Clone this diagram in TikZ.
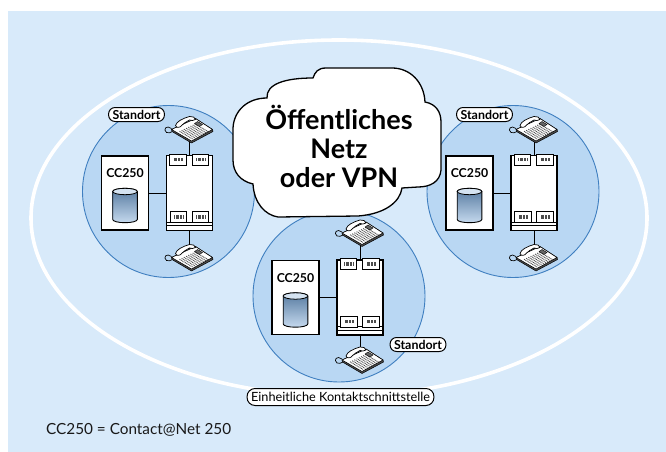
\documentclass[tikz,border=0pt]{standalone}
\usepackage{fontspec}
\setmainfont{Lato}
\definecolor{bgblue}{HTML}{D8EAFA}
\definecolor{siteblue}{HTML}{B9D7F3}
\definecolor{siteline}{HTML}{3F7FC0}
\definecolor{cyltop}{HTML}{55799F}
\definecolor{cylbot}{HTML}{C5D9EE}
\definecolor{cylcap}{HTML}{D5E3F1}
\tikzset{
  x=1pt,y=-1pt,
  sitedisc/.style={circle,draw=siteline,fill=siteblue,line width=0.9pt,minimum size=172pt,inner sep=0pt},
  ccbox/.style={rectangle,draw=black,fill=white,line width=1.1pt,minimum width=47pt,minimum height=74pt,inner sep=0pt},
  ccname/.style={font=\fontsize{12.3}{14}\selectfont\bfseries,inner sep=0pt,text=black},
  swbox/.style={rectangle,draw=black,fill=white,line width=1.1pt,minimum width=46pt,minimum height=75pt,inner sep=0pt},
  card/.style={rectangle,draw=black,fill=white,line width=0.9pt,minimum width=16.5pt,minimum height=11pt,inner sep=0pt},
  wire/.style={draw=black,line width=0.8pt},
  pill/.style={rectangle,rounded corners=6.5pt,draw=black,fill=white,line width=1pt,inner xsep=4pt,inner ysep=0pt,minimum height=14pt},
  tag/.style={pill,font=\fontsize{12.4}{14}\selectfont\bfseries},
}
% telephone drawn around its centre
\newcommand{\phonepic}[2]{%
  \begin{scope}[shift={(#1,#2)}]
    \draw[black,line width=0.7pt] (-18,-1) .. controls (-23,-5) and (-27,0) .. (-23,3) .. controls (-21,4) and (-19,3) .. (-17,2);
    \draw[black,fill=black!70,line width=0.5pt,line join=round] (-18,0) -- (6,-11) -- (23,0) -- (23.5,2) -- (2,13.5) -- (-17.5,2) -- cycle;
    \draw[black,fill=white,line width=0.6pt,line join=round] (-18,0) -- (6,-11) -- (23,0) -- (2,11.5) -- cycle;
    \foreach \i in {0,...,7}{
      \draw[black!70,line width=0.9pt,dash pattern=on 0.9pt off 0.7pt]
        ({-10+\i*2.2},{1.8-\i*1.05}) -- ({3+\i*2.2},{9.4-\i*1.05});
    }
    \draw[black,fill=white,line width=0.7pt,line join=round]
      (-14,-4) .. controls (-13,-8) and (-7,-11) .. (0,-13)
      .. controls (3,-13.5) and (6,-12) .. (6,-10)
      .. controls (4,-8.5) and (2,-9) .. (0,-9.5)
      .. controls (-3,-8) and (-6,-6) .. (-8,-4)
      .. controls (-9,-2) and (-13,-1) .. (-14,-4) -- cycle;
    \draw[black,fill=black!60,line width=0.4pt] (8,-8) -- (13,-5) -- (10,-3) -- (5,-6) -- cycle;
  \end{scope}}
% bars inside a line card
\newcommand{\cardbars}[1]{%
  \foreach \d in {-4,-2.6,-1.2,0.2,1.6,3,4.4}{
    \draw[black!70,line width=0.7pt] ([xshift=\d pt,yshift=-1.6pt]#1.center) -- ([xshift=\d pt,yshift=1.6pt]#1.center);
  }}
% one location
\newcommand{\sitepic}[5]{% name, cx, cy, phone top y, phone bottom y
  \begin{scope}[shift={(#2,#3)}]
    \node[sitedisc] (#1disc) at (0,0) {};
    \node[ccbox] (#1cc) at (-43.5,1.5) {};
    \node[ccname,anchor=base] (#1name) at (-43.5,-14) {CC250};
    \node[swbox] (#1sw) at (21,1.5) {};
    \coordinate (#1pa) at (21,#4);
    \coordinate (#1pb) at (21,#5);
    \draw[wire] (#1sw.north) -- (#1pa);
    \draw[wire] (#1sw.south) -- (#1pb);
    \draw[wire] (#1cc.east) -- (#1sw.west);
    \phonepic{21}{#4}
    \phonepic{21}{#5}
    \draw[black,line width=0.8pt] (#1sw.west |- 0,30.5) -- (#1sw.east |- 0,30.5);
    \draw[black,line width=0.8pt] (#1sw.west |- 0,34) -- (#1sw.east |- 0,34);
    \node[card] (#1ca) at (9.5,-32) {};
    \node[card] (#1cb) at (32,-32) {};
    \node[card] (#1cc2) at (10,25.5) {};
    \node[card] (#1cd) at (32,25.5) {};
    \cardbars{#1ca}\cardbars{#1cb}\cardbars{#1cc2}\cardbars{#1cd}
    \draw[top color=cyltop,bottom color=cylbot,draw=black,line width=0.9pt]
      (-55.8,0) -- (-55.8,28) arc[start angle=180,end angle=360,x radius=12.3,y radius=-3.2]
      -- (-31.2,0) arc[start angle=0,end angle=180,x radius=12.3,y radius=-3.2] -- cycle;
    \draw[fill=cylcap,draw=black,line width=0.8pt] (-43.5,0) ellipse[x radius=12.3,y radius=3.2];
  \end{scope}}
\begin{document}
\begin{tikzpicture}
  \useasboundingbox (0,0) rectangle (666,452);
  \fill[white] (0,0) rectangle (666,452);
  \fill[bgblue] (8,11) rectangle (666,452);
  \draw[white,line width=3.6pt] (339,218) ellipse[x radius=308,y radius=178];
  \sitepic{l}{168.5}{191.5}{-62}{66}
  \sitepic{r}{513}{191.5}{-62}{66}
  \sitepic{b}{339}{296}{-63}{64}
  \draw[black,fill=white,line width=1.3pt]
    (313,78) .. controls (315,72) and (318,68) .. (326,68)
    -- (392,68) .. controls (410,68) and (424,82) .. (425,102)
    .. controls (436,104) and (441,112) .. (441,122)
    -- (441,170) .. controls (440,182) and (430,187) .. (418,187)
    -- (402,188) .. controls (400,202) and (385,214) .. (358,216)
    -- (278,217) .. controls (265,215) and (254,203) .. (253,184)
    .. controls (240,181) and (233,172) .. (233,160)
    -- (233,128) .. controls (234,110) and (248,98) .. (267,98)
    .. controls (266,84) and (285,78) .. (313,78) -- cycle;
  \node[align=center,font=\fontsize{27}{29}\selectfont\bfseries,inner sep=0pt,text=black] (cloudtext) at (339,146.5) {Öffentliches\\Netz\\oder VPN};
  \node[tag] (tagl) at (136.5,114.5) {Standort};
  \node[tag] (tagr) at (484.5,114.5) {Standort};
  \node[tag] (tagb) at (418,344.5) {Standort};
  \node[pill,font=\fontsize{12.7}{14}\selectfont,minimum height=17pt,rounded corners=8pt] (unified) at (340.5,397) {Einheitliche Kontaktschnittstelle};
  \node[anchor=base west,inner sep=0pt,font=\fontsize{15.3}{18}\selectfont,text=black!90] (legend) at (46,434) {CC250 = Contact@Net 250};
\end{tikzpicture}
\end{document}
